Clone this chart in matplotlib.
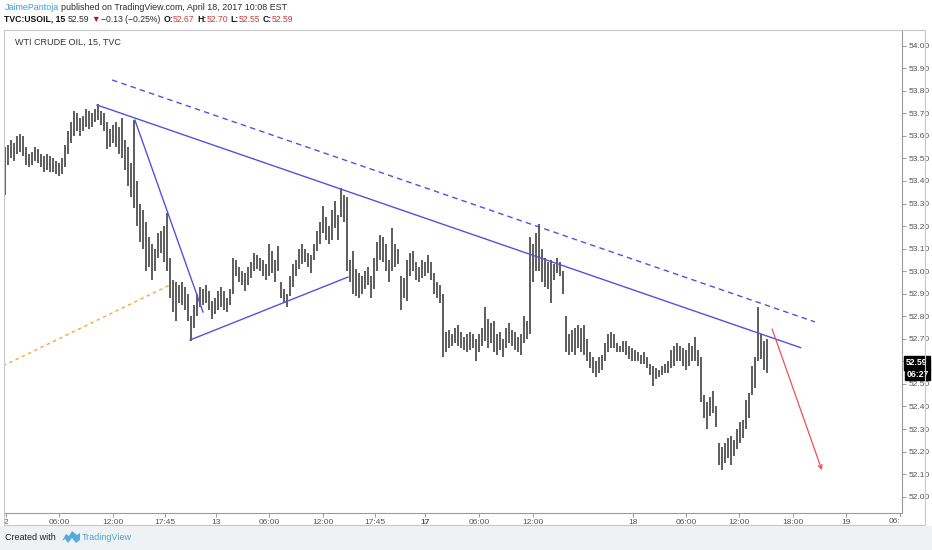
import matplotlib
matplotlib.use('Agg')
import matplotlib.pyplot as plt
from matplotlib.patches import Rectangle, Polygon
import numpy as np

plt.rcParams['font.family'] = ['Liberation Sans', 'DejaVu Sans']

W, H = 932, 550

# WTI crude 15 min bars (high / low)
highs = [
    53.55, 53.56, 53.58, 53.57, 53.60, 53.61, 53.60, 53.55, 53.52, 53.53,
    53.55, 53.54, 53.52, 53.51, 53.52, 53.51, 53.50, 53.49, 53.48, 53.50,
    53.56, 53.62, 53.66, 53.71, 53.70, 53.68, 53.69, 53.72, 53.71, 53.70,
    53.72, 53.74, 53.71, 53.70, 53.66, 53.63, 53.65, 53.66, 53.64, 53.68,
    53.58, 53.55, 53.48, 53.67, 53.40, 53.30, 53.27, 53.22, 53.15, 53.12,
    53.10, 53.17, 53.18, 53.20, 53.26, 53.06, 52.96, 52.95, 52.94, 52.95,
    52.93, 52.90, 52.80, 52.85,
    52.90, 52.93, 52.92, 52.94, 52.91, 52.87, 52.88, 52.91, 52.93, 52.91,
    52.88, 52.92, 53.06, 53.05, 53.02, 53.00, 52.99, 53.02, 53.04, 53.08,
    53.07, 53.06, 53.05, 53.03, 53.12, 53.09, 53.05, 53.11, 52.95, 52.92,
    52.90, 52.98, 53.03, 53.05, 53.10, 53.12, 53.10, 53.08, 53.07, 53.12,
    53.18, 53.22, 53.29, 53.24, 53.20, 53.27, 53.31, 53.25, 53.37, 53.34,
    53.33, 53.05, 53.09, 53.01, 52.99, 52.98, 53.00, 53.02, 52.98, 53.06,
    53.13, 53.16,
    53.15, 53.12, 53.05, 53.19, 53.12, 53.10, 52.98, 52.97, 53.05, 53.08,
    53.09, 53.04, 53.02, 53.05, 53.04, 53.07, 53.04, 52.99, 52.95, 52.94,
    52.90, 52.73, 52.74, 52.72, 52.75, 52.76, 52.73, 52.71, 52.72, 52.73,
    52.72, 52.70, 52.72, 52.75, 52.84, 52.79, 52.77, 52.78, 52.72, 52.73,
    52.70, 52.75, 52.77, 52.74, 52.73, 52.71, 52.72, 52.80, 52.78, 53.15,
    53.12, 53.17, 53.21, 53.10, 53.06, 53.04, 53.05, 53.03, 53.06, 53.04,
    53.00, 52.80, 52.72,
    52.74, 52.75, 52.76, 52.75, 52.76, 52.70, 52.64, 52.62, 52.60, 52.62,
    52.63, 52.68, 52.72, 52.73, 52.72, 52.68, 52.67, 52.69, 52.69, 52.67,
    52.66, 52.65, 52.64, 52.63, 52.64, 52.62, 52.59, 52.58, 52.57, 52.56,
    52.58, 52.59, 52.60, 52.65, 52.67, 52.68, 52.67, 52.66, 52.65, 52.68,
    52.67, 52.71, 52.65, 52.62, 52.45, 52.42, 52.44, 52.47, 52.40, 52.24,
    52.22, 52.24, 52.26, 52.27, 52.25, 52.30, 52.33, 52.34, 52.43, 52.46,
    52.58, 52.62, 52.84, 52.72, 52.69, 52.70,
]
lows = [
    53.34, 53.47, 53.50, 53.49, 53.52, 53.53, 53.51, 53.47, 53.46, 53.47,
    53.49, 53.48, 53.46, 53.44, 53.45, 53.44, 53.44, 53.43, 53.42, 53.43,
    53.46, 53.52, 53.57, 53.60, 53.62, 53.60, 53.62, 53.64, 53.63, 53.64,
    53.66, 53.67, 53.65, 53.62, 53.54, 53.55, 53.57, 53.55, 53.52, 53.50,
    53.45, 53.38, 53.33, 53.28, 53.20, 53.13, 53.10, 53.00, 53.02, 52.96,
    53.00, 53.06, 53.08, 53.04, 53.00, 52.88, 52.82, 52.78, 52.86, 52.85,
    52.83, 52.78, 52.69, 52.75,
    52.80, 52.84, 52.85, 52.86, 52.83, 52.79, 52.81, 52.83, 52.84, 52.83,
    52.82, 52.85, 52.90, 52.98, 52.95, 52.94, 52.91, 52.94, 52.97, 53.00,
    53.01, 53.00, 52.98, 52.96, 52.98, 52.99, 52.95, 53.00, 52.88, 52.86,
    52.84, 52.89, 52.93, 52.98, 53.01, 53.03, 53.04, 53.02, 52.99, 53.05,
    53.09, 53.12, 53.17, 53.14, 53.12, 53.14, 53.19, 53.14, 53.24, 53.22,
    53.00, 52.95, 52.90, 52.89, 52.88, 52.90, 52.92, 52.94, 52.88, 52.92,
    53.00, 53.05,
    53.04, 53.00, 52.95, 53.00, 53.02, 53.03, 52.83, 52.88, 52.87, 52.98,
    53.00, 52.96, 52.95, 52.97, 52.98, 52.99, 52.96, 52.90, 52.88, 52.86,
    52.62, 52.64, 52.66, 52.67, 52.68, 52.67, 52.66, 52.65, 52.64, 52.65,
    52.66, 52.60, 52.64, 52.67, 52.69, 52.66, 52.68, 52.64, 52.63, 52.65,
    52.62, 52.66, 52.68, 52.67, 52.65, 52.64, 52.63, 52.68, 52.70, 52.72,
    52.95, 53.00, 53.00, 52.95, 52.93, 52.92, 52.86, 52.96, 52.99, 52.98,
    52.90, 52.64, 52.63,
    52.64, 52.63, 52.66, 52.64, 52.63, 52.60, 52.57, 52.55, 52.53, 52.55,
    52.56, 52.60, 52.64, 52.66, 52.66, 52.64, 52.64, 52.64, 52.63, 52.61,
    52.60, 52.60, 52.60, 52.59, 52.59, 52.57, 52.54, 52.49, 52.52, 52.53,
    52.54, 52.55, 52.55, 52.57, 52.58, 52.60, 52.60, 52.58, 52.56, 52.58,
    52.60, 52.60, 52.58, 52.42, 52.35, 52.30, 52.36, 52.37, 52.31, 52.14,
    52.12, 52.15, 52.17, 52.14, 52.18, 52.21, 52.24, 52.26, 52.30, 52.35,
    52.45, 52.48, 52.60, 52.61, 52.56, 52.55,
]
last_close = 52.59
countdown = '06:27'

price_ticks = [52.0, 52.1, 52.2, 52.3, 52.4, 52.5, 52.6, 52.7, 52.8, 52.9,
               53.0, 53.1, 53.2, 53.3, 53.4, 53.5, 53.6, 53.7, 53.8, 53.9, 54.0]
time_pos = [0.3, 18.1, 36.1, 53.2, 70.2, 88.0, 106.0, 123.3, 140.0, 158.0,
            176.0, 209.3, 227.0, 244.8, 262.6, 280.2]
time_labels = ['2', '06:00', '12:00', '17:45', '13', '06:00', '12:00', '17:45',
               '17', '06:00', '12:00', '18', '06:00', '12:00', '18:00', '19']
cut_label_pos = 298.3

# drawings (bar index, price)
blue_lines = [[(30.7, 53.737), (265.2, 52.661)],
              [(43.3, 53.670), (66.0, 52.819)],
              [(61.7, 52.695), (114.3, 52.974)]]
blue_dashed = [(35.7, 53.848), (270.0, 52.775)]
orange_dashed = [(-0.67, 52.58), (55.0, 52.939)]
red_arrow = [(255.7, 52.744), (272.3, 52.118)]

fig = plt.figure(figsize=(W / 100, H / 100), dpi=100)
fig.patch.set_facecolor('white')

# footer band and chart frame
fig.patches.append(Rectangle((0, 0), 1, (H - 526) / H, transform=fig.transFigure,
                             facecolor='#eef2f5', edgecolor='none', zorder=-5))
fig.patches.append(Rectangle((4 / W, 1 - 525 / H), (925 - 4) / W, (525 - 29.5) / H,
                             transform=fig.transFigure, fill=False,
                             edgecolor='#c8c8c8', linewidth=0.8))

ax = fig.add_axes([4 / W, 1 - 513 / H, (902 - 4) / W, (513 - 29.5) / H])
ax.set_xlim(-0.33, 299.0)
ax.set_ylim(51.9277, 54.0718)

x = np.arange(len(highs))
ax.vlines(x, lows, highs, color='#4a4a4a', linewidth=1.25, zorder=2)

for seg in blue_lines:
    ax.plot([seg[0][0], seg[1][0]], [seg[0][1], seg[1][1]], color='#5252e0',
            linewidth=1.0, zorder=3)
ax.plot([blue_dashed[0][0], blue_dashed[1][0]], [blue_dashed[0][1], blue_dashed[1][1]],
        color='#5252e0', linewidth=1.0, dashes=(4, 3), zorder=3)
ax.plot([orange_dashed[0][0], orange_dashed[1][0]], [orange_dashed[0][1], orange_dashed[1][1]],
        color='#f5a742', linewidth=1.0, dashes=(2.5, 2.5), zorder=3)
ax.annotate('', xy=red_arrow[1], xytext=red_arrow[0],
            arrowprops=dict(arrowstyle='->', color='#f05050', lw=0.9,
                            mutation_scale=7, shrinkA=0, shrinkB=0))

for s in ['left', 'top']:
    ax.spines[s].set_visible(False)
for s in ['right', 'bottom']:
    ax.spines[s].set_color('#9a9a9a')
    ax.spines[s].set_linewidth(0.8)

# the 52.60 label sits under the last price tag
ax.yaxis.tick_right()
ax.set_yticks(price_ticks)
ax.set_yticklabels(['' if abs(p - 52.6) < 1e-6 else '%.2f' % p for p in price_ticks])
ax.set_xticks(time_pos)
ax.set_xticklabels(time_labels)
ax.tick_params(axis='both', direction='out', length=3, width=0.6, color='#8a8a8a',
               labelsize=6, labelcolor='#555555')
ax.tick_params(axis='y', pad=1.5)
ax.tick_params(axis='x', pad=1.5)
for lab in ax.get_xticklabels():
    if lab.get_text() == '17':
        lab.set_fontweight('bold')
ax.text(cut_label_pos, -0.011, '06:', transform=ax.get_xaxis_transform(),
        ha='right', va='top', fontsize=6, color='#555555', clip_on=False)
ax.plot([cut_label_pos, cut_label_pos], [0, -0.006], transform=ax.get_xaxis_transform(),
        color='#8a8a8a', linewidth=0.6, clip_on=False)

# last price / countdown tags
ax.annotate('%.2f' % last_close, xy=(1, last_close), xycoords=('axes fraction', 'data'),
            xytext=(10.8, 0.5), textcoords='offset points', ha='center', va='center',
            fontsize=6.2, fontweight='bold', color='white',
            bbox=dict(boxstyle='square,pad=0.25', fc='black', ec='black'))
ax.annotate(countdown, xy=(1, last_close), xycoords=('axes fraction', 'data'),
            xytext=(11.2, -7.8), textcoords='offset points', ha='center', va='center',
            fontsize=6.2, fontweight='bold', color='white',
            bbox=dict(boxstyle='square,pad=0.15', fc='black', ec='black'))

ax.text(11 / 898, 1 - (42 - 29.5) / 483.5, 'WTI CRUDE OIL, 15, TVC', transform=ax.transAxes,
        fontsize=6.5, color='#333333', va='center', ha='left')

renderer = fig.canvas.get_renderer()


def text_row(x0, y0, parts, size):
    xp = x0
    for s, c, bold, gap in parts:
        t = fig.text(xp / W, 1 - y0 / H, s, color=c, fontsize=size,
                     fontweight='bold' if bold else 'normal', va='center', ha='left')
        xp += t.get_window_extent(renderer).width + gap


red = '#cc3b3b'
dark = '#2a2a2a'
text_row(5, 7, [('JaimePantoja', '#3b9ad9', False, 2),
                ('published on TradingView.com, April 18, 2017 10:08 EST', dark, False, 0)], 6.4)
text_row(4, 19, [('TVC:USOIL, 15', '#111111', True, 2.5),
                 ('52.59', dark, False, 2),
                 ('\u25bc', '#b01c1c', False, 1.5),
                 ('\u22120.13 (\u22120.25%)', dark, False, 2.5),
                 ('O:', '#111111', True, 0), ('52.67', red, False, 2.5),
                 ('H:', '#111111', True, 0), ('52.70', red, False, 2.5),
                 ('L:', '#111111', True, 0), ('52.55', red, False, 2.5),
                 ('C:', '#111111', True, 0), ('52.59', red, False, 0)], 6.2)

# footer
fig.text(5 / W, 1 - 538 / H, 'Created with', fontsize=6.5, color='#222222', va='center')
logo = [(62, 541), (66, 534), (69, 536), (72, 531), (77, 535), (80, 533), (80, 540),
        (76, 543), (72, 538), (68, 543), (65, 539)]
fig.patches.append(Polygon([(px / W, 1 - py / H) for px, py in logo], closed=True,
                           transform=fig.transFigure, facecolor='#5aa9dd', edgecolor='none'))
fig.text(82 / W, 1 - 538 / H, 'TradingView', fontsize=6.5, color='#4aa3dc', va='center')

fig.savefig('out.png', dpi=100)
